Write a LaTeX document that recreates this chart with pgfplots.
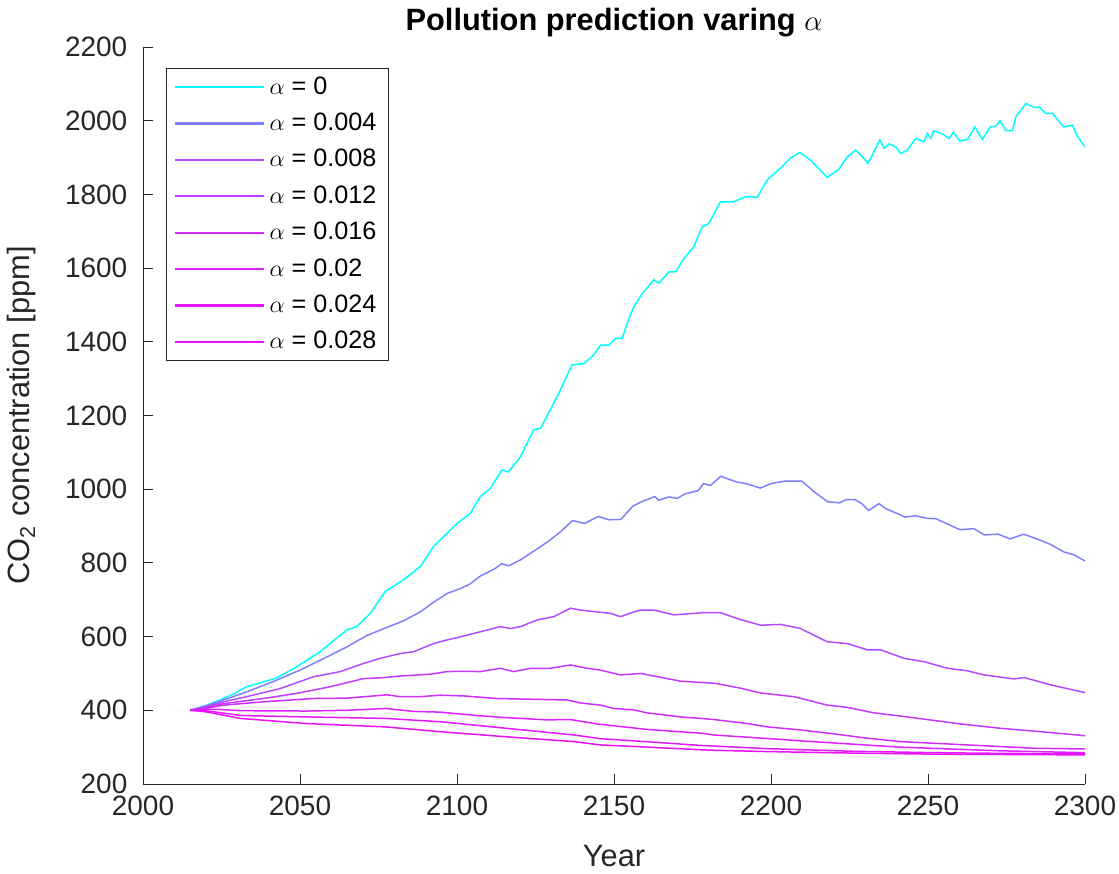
\documentclass[border=0pt]{standalone}
\usepackage{fontspec}
\setmainfont{Liberation Sans}
\usepackage{pgfplots}
\pgfplotsset{compat=1.18}
\definecolor{axgray}{RGB}{38,38,38}
\definecolor{c0}{RGB}{0,255,255}
\definecolor{c1}{RGB}{128,128,255}
\definecolor{c2}{RGB}{180,75,255}
\definecolor{c3}{RGB}{198,58,255}
\definecolor{c4}{RGB}{210,45,255}
\definecolor{c5}{RGB}{220,34,255}
\definecolor{c6}{RGB}{228,24,252}
\definecolor{c7}{RGB}{234,16,248}
\begin{document}
\begin{tikzpicture}
\begin{axis}[
  scale only axis, width=471pt, height=368.5pt,
  xmin=2000, xmax=2300, ymin=200, ymax=2200,
  xtick={2000,2050,...,2300}, ytick={200,400,...,2200},
  axis x line*=bottom, axis y line*=left,
  axis line style={axgray, line width=0.45pt, -},
  every tick/.style={axgray, line width=0.45pt},
  tick align=inside, major tick length=5pt,
  /pgf/number format/assume math mode=true,
  /pgf/number format/1000 sep={},
  tick label style={font=\fontsize{14}{16}\selectfont, text=axgray},
  xticklabel style={anchor=base, yshift=-15.5pt},
  yticklabel style={anchor=east, xshift=-4.3pt},
  label style={font=\fontsize{15.4}{18}\selectfont, text=axgray},
  xlabel={Year},
  xlabel style={at={(axis description cs:0.5,0)}, anchor=base, yshift=-41pt},
  ylabel={CO\textsubscript{2} concentration [ppm]},
  ylabel style={at={(axis description cs:-0.1285,0.5)}, anchor=center},
  title={Pollution prediction varing $\alpha$},
  title style={font=\fontsize{15.4}{18}\selectfont\bfseries, at={(axis description cs:0.5,1)}, anchor=base, yshift=2.2pt},
  legend style={at={(axis description cs:0.0244,0.9715)}, anchor=north west,
    font=\fontsize{12.6}{14}\selectfont, draw=axgray,
    inner xsep=4pt, inner ysep=2.8pt, row sep=5.2pt,
    nodes={inner ysep=0pt, text height=10pt, text depth=3pt}},
  legend cell align=left,
  legend image code/.code={\draw[#1, line width=1.1pt] (0pt,0pt) -- (44.5pt,0pt);},
]
\addplot[draw=c0, line width=0.75pt] table {
2015 400
2020 413
2024.5 428
2029 445
2033 464
2038 476
2042.6 488
2049 518
2056.4 559
2062 598
2064.9 618
2068 627
2072.4 663
2077.1 722
2083 754
2088.3 790
2092.5 844
2095.7 871
2100 907
2104.2 934
2107.4 980
2110.6 1002
2114.3 1052
2116.4 1047
2120.2 1088
2124.4 1161
2126.6 1165
2129.7 1215
2132.9 1269
2136.6 1337
2140.4 1341
2143.5 1364
2145.7 1391
2148.3 1391
2150.5 1409
2152.6 1409
2154.2 1450
2156.3 1495
2159 1531
2162.7 1568
2164.3 1559
2167.5 1590
2169.6 1590
2172.3 1626
2175.4 1658
2178.1 1712
2180.2 1721
2183.9 1780
2188.1 1780
2191.9 1794
2195.6 1792
2198.8 1839
2203.1 1872
2206.3 1899
2209.2 1914
2212.6 1893
2217.9 1846
2221.6 1868
2224.3 1902
2227 1920
2228.6 1907
2230.9 1884
2234.7 1948
2236 1925
2237.6 1937
2239.7 1929
2241.3 1911
2243.4 1920
2246.1 1952
2248.7 1943
2249.8 1965
2250.9 1952
2251.9 1972
2254.6 1964
2256.7 1952
2258.1 1968
2260.1 1945
2262.6 1949
2264.9 1983
2267.3 1949
2269.8 1983
2271.6 1985
2272.9 2000
2274.8 1973
2276.9 1973
2278 2011
2281.2 2047
2283.8 2036
2285.4 2037
2287.5 2020
2289.6 2020
2293.2 1983
2296 1988
2297.6 1957
2300 1929
};
\addlegendentry{$\alpha$ = 0}
\addplot[draw=c1, line width=0.75pt] table {
2015 400
2020 412
2025.6 428
2033 450
2041.5 478
2050 509
2058.6 545
2064.9 572
2071.3 603
2077.7 625
2083 643
2088.3 667
2092 690
2096.8 717
2101 730
2104 742
2107.4 764
2112.2 785
2114.3 798
2116.4 792
2120.2 808
2125 835
2129 858
2132.9 884
2136.8 915
2140.6 907
2145 926
2148.3 917
2152.2 918
2156 954
2159.3 968
2163.1 980
2164.2 970
2167.5 979
2170.2 975
2172.5 987
2176.8 996
2178.5 1015
2180.7 1010
2184 1035
2188.9 1020
2192.2 1015
2196.6 1003
2199.9 1015
2204.3 1022
2209.8 1022
2214.2 990
2218 966
2221.8 963
2224 972
2226.7 972
2228.9 961
2231.1 942
2234.4 961
2236.6 947
2240.5 933
2242.7 924
2245.9 928
2249.8 921
2252.5 920
2256.9 903
2260.2 890
2264.6 893
2267.9 876
2272.3 878
2276.2 865
2280.5 878
2285 864
2288.8 851
2293.2 830
2296.5 822
2300 805
};
\addlegendentry{$\alpha$ = 0.004}
\addplot[draw=c2, line width=0.75pt] table {
2015 400
2020 410
2025.6 423
2033 437
2043.7 459
2054.3 491
2062.8 505
2070.2 527
2075.5 541
2081.9 554
2086.2 559
2092.5 581
2096.8 591
2100 597
2103.2 604
2107.4 613
2113.8 627
2117 622
2120.2 627
2125.5 645
2130.8 654
2136.1 677
2139.3 672
2144.6 667
2148.9 663
2152.1 654
2156.3 667
2158.5 672
2162.7 672
2169.1 659
2175.4 663
2178.6 665
2183.9 665
2190.3 646
2196.7 631
2203.1 633
2209.4 622
2217.9 586
2224.3 581
2230.7 564
2234.9 564
2242.4 541
2248.7 532
2256.2 514
2262.6 507
2267.9 496
2277.5 485
2280.6 489
2289.1 469
2300 448
};
\addlegendentry{$\alpha$ = 0.008}
\addplot[draw=c3, line width=0.75pt] table {
2015 400
2020 408
2025.6 418
2038.4 432
2049 446
2059.6 464
2070.2 486
2075.5 488
2081.9 493
2091.5 498
2096.8 505
2102.1 506
2107.4 505
2113.8 514
2118 505
2123.4 514
2129.7 514
2136.1 523
2141.5 514
2145.7 509
2152.1 496
2158.5 500
2171.2 479
2182.3 473
2190.3 460
2196.7 447
2203.1 441
2207.3 437
2217.9 414
2224.3 408
2232.8 393
2243.4 382
2260.4 363
2273.2 351
2285.9 342
2300 331
};
\addlegendentry{$\alpha$ = 0.012}
\addplot[draw=c4, line width=0.75pt] table {
2015 400
2020 405
2025.6 414
2038.4 423
2054.3 432
2064.9 433
2077.7 442
2081.9 437
2088.3 437
2094.7 441
2102.1 439
2112.7 432
2123.4 430
2135 428
2139.3 420
2145.7 414
2149.9 405
2156.3 401
2160.6 393
2171.2 382
2177.6 378
2181.8 375
2192.5 364
2198.8 355
2209 347
2220.1 336
2230 325
2241.3 315
2262.6 306
2283.8 297
2300 295
};
\addlegendentry{$\alpha$ = 0.016}
\addplot[draw=c5, line width=0.75pt] table {
2015 400
2020 403
2025.6 402
2030.9 399
2052.2 398
2064.9 400
2077.1 405
2086.2 397
2094.7 395
2107.4 385
2115.9 380
2128.7 374
2136.1 375
2144.6 363
2160.6 348
2177.6 338
2181.8 333
2203.1 321
2209.4 317
2241.3 300
2273.2 290
2300 285
};
\addlegendentry{$\alpha$ = 0.02}
\addplot[draw=c6, line width=0.75pt] table {
2015 400
2020 399
2030.9 386
2052.2 382
2077.1 378
2094.7 369
2115.9 351
2137.2 333
2145.7 323
2158.4 316
2177 305
2198.8 296
2225 289
2252 285
2275 283
2300 282
};
\addlegendentry{$\alpha$ = 0.024}
\addplot[draw=c7, line width=0.75pt] table {
2015 400
2020 396
2030.9 378
2052.2 364
2077.1 355
2094.7 342
2115.9 328
2137.2 315
2145.7 306
2158.4 301
2180 292
2198.8 288
2225 284
2252 281
2300 279
};
\addlegendentry{$\alpha$ = 0.028}
\end{axis}
\pgfresetboundingbox
\path[use as bounding box] (-71.5pt,-44.5pt) rectangle (488pt,392pt);
\end{tikzpicture}
\end{document}
